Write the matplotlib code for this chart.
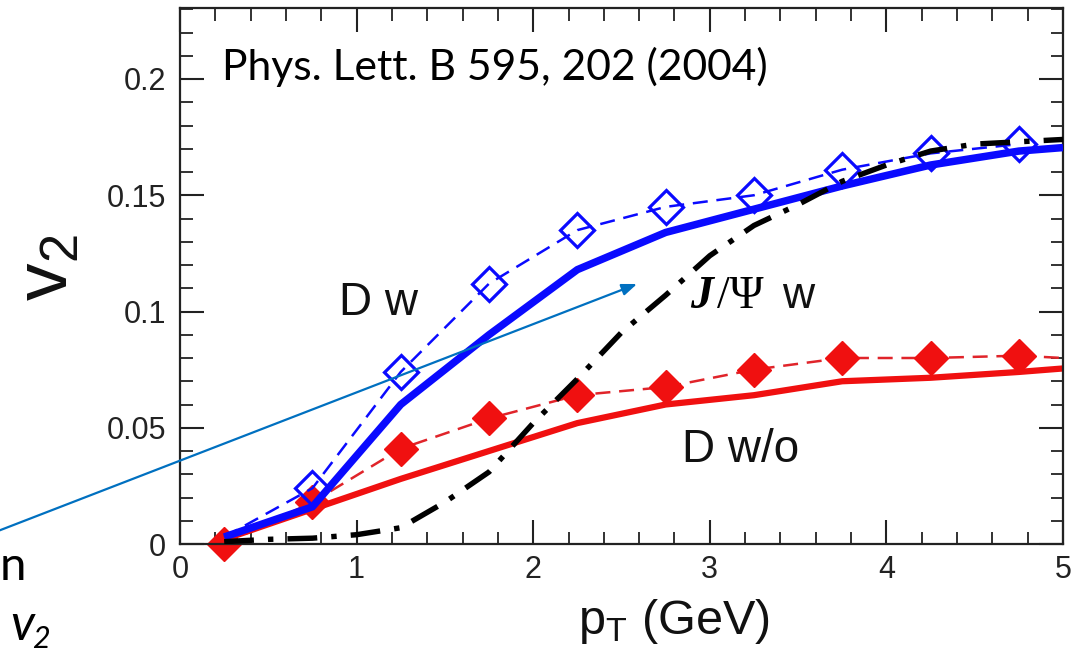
import numpy as np
import matplotlib
matplotlib.use("Agg")
import matplotlib.pyplot as plt
from matplotlib.ticker import MultipleLocator, FixedLocator, FixedFormatter

plt.rcParams["font.family"] = ["Liberation Sans", "DejaVu Sans"]
plt.rcParams["mathtext.fontset"] = "custom"
plt.rcParams["mathtext.rm"] = "Liberation Sans"
plt.rcParams["mathtext.it"] = "Liberation Sans:italic"

# --- data ---
pt = [0.25, 0.75, 1.25, 1.75, 2.25, 2.75, 3.25, 3.75, 4.25, 4.75]
v2_D_w_pts = [0.003, 0.024, 0.074, 0.112, 0.135, 0.145, 0.150, 0.161, 0.168, 0.172]
v2_D_wo_pts = [0.000, 0.018, 0.041, 0.054, 0.064, 0.0675, 0.075, 0.080, 0.080, 0.081]

pt_curve = [0.25, 0.75, 1.25, 1.75, 2.25, 2.75, 3.25, 3.75, 4.25, 4.75, 5.0]
v2_D_w_curve = [0.003, 0.016, 0.060, 0.090, 0.118, 0.134, 0.144, 0.154, 0.163, 0.169, 0.1705]
v2_D_wo_curve = [0.002, 0.015, 0.028, 0.040, 0.052, 0.060, 0.064, 0.070, 0.0715, 0.074, 0.0755]
v2_D_wo_tail = 0.080  # dashed red line runs on to pT = 5

pt_jpsi = [0.25, 0.5, 0.75, 1.0, 1.25, 1.5, 1.75, 2.0, 2.25, 2.5,
           2.75, 3.0, 3.25, 3.5, 3.75, 4.0, 4.25, 4.5, 4.75, 5.0]
v2_jpsi = [0.001, 0.002, 0.0025, 0.004, 0.007, 0.018, 0.031, 0.052, 0.071, 0.091,
           0.107, 0.124, 0.137, 0.146, 0.156, 0.163, 0.169, 0.172, 0.173, 0.174]

xticks = [0, 1, 2, 3, 4, 5]
xtick_labels = ["0", "1", "2", "3", "4", "5"]
yticks = [0, 0.05, 0.1, 0.15, 0.2]
ytick_labels = ["0", "0.05", "0.1", "0.15", "0.2"]

W, H = 1082, 660
fig = plt.figure(figsize=(W / 100, H / 100), dpi=100)
fig.patch.set_facecolor("white")

x0, x1, y0, y1 = 180, 1063, 544, 8
ax = fig.add_axes([x0 / W, (H - y0) / H, (x1 - x0) / W, (y0 - y1) / H])

blue = "#0a0aff"
red = "#f01010"

# red curves
ax.plot(pt + [5.0], v2_D_wo_pts + [v2_D_wo_tail], color="#e0242a", lw=1.8,
        ls=(0, (6, 3.5)), marker="D", ms=17.5, mfc=red, mec=red,
        markevery=list(range(len(pt))), clip_on=False, zorder=2)
ax.plot(pt_curve, v2_D_wo_curve, color=red, lw=4.5, solid_capstyle="butt", zorder=2.5)

# blue curves
ax.plot(pt_curve, v2_D_w_curve, color=blue, lw=5.4, solid_capstyle="butt", zorder=3)
ax.plot(pt, v2_D_w_pts, color=blue, lw=1.8, ls=(0, (6, 3.5)), marker="D", ms=17,
        mfc="none", mec=blue, mew=2.3, markevery=list(range(1, len(pt))), zorder=3.5)

# J/Psi
ax.plot(pt_jpsi, v2_jpsi, color="black", lw=3.9, ls=(0, (5.5, 2.6, 1.0, 2.6)),
        dash_capstyle="butt", zorder=4)

ax.set_xlim(0, 5)
ax.set_ylim(0, (y0 - y1) / 2325)
ax.xaxis.set_major_locator(FixedLocator(xticks))
ax.xaxis.set_major_formatter(FixedFormatter(xtick_labels))
ax.yaxis.set_major_locator(FixedLocator(yticks))
ax.yaxis.set_major_formatter(FixedFormatter(ytick_labels))
ax.xaxis.set_minor_locator(MultipleLocator(0.2))
ax.yaxis.set_minor_locator(MultipleLocator(0.01))
ax.tick_params(which="both", direction="in", top=True, right=True, colors="#222222",
               labelsize=22)
ax.tick_params(which="major", length=17, width=1.5)
ax.tick_params(which="minor", length=9, width=1.3)
ax.tick_params(axis="y", pad=10)
ax.tick_params(axis="x", pad=8)
for s in ax.spines.values():
    s.set_linewidth(1.6)
    s.set_color("#222222")

# curve labels
ax.text(0.90, 0.0985, "D w", fontsize=33, color="#111111", va="baseline")
ax.text(2.84, 0.0353, "D w/o", fontsize=33, color="#111111", va="baseline")
ax.text(2.89, 0.1015, "J", fontsize=33, fontweight="bold", fontstyle="italic",
        family=["Liberation Serif", "DejaVu Serif"], va="baseline")
ax.text(3.04, 0.1015, "/\u03a8", fontsize=33, family=["Liberation Serif", "DejaVu Serif"],
        va="baseline")
ax.text(3.41, 0.1015, "w", fontsize=32, color="#111111", va="baseline")

# axis titles
fig.text(48 / W, 1 - 268 / H, r"v$_2$", fontsize=54, rotation=90, ha="center", va="center",
         color="#111111")
fig.text(674 / W, 1 - 622 / H, r"p$_\mathrm{T}$ (GeV)", fontsize=35, ha="center",
         va="center", color="#111111")

# slide annotations
fig.text(222 / W, 1 - 80 / H, "Phys. Lett. B 595, 202 (2004)", fontsize=30.7,
         family=["Lato", "DejaVu Sans"], va="baseline")
fig.text(0 / W, 1 - 580 / H, "n", fontsize=34, family=["Lato", "DejaVu Sans"],
         ha="left", va="baseline")
fig.text(10 / W, 1 - 640 / H, "v", fontsize=36, family=["Lato", "DejaVu Sans"],
         style="italic", va="baseline")
fig.text(32 / W, 1 - 648 / H, "2", fontsize=22, family=["Lato", "DejaVu Sans"],
         style="italic", va="baseline")

ax.annotate("", xy=(637, H - 284), xytext=(-2, H - 531), xycoords="figure pixels",
            textcoords="figure pixels", annotation_clip=False,
            arrowprops=dict(arrowstyle="-|>,head_length=0.9,head_width=0.35",
                            color="#0070c0", lw=1.6, shrinkA=0, shrinkB=0),
            zorder=10)

fig.savefig("out.png", dpi=100)
